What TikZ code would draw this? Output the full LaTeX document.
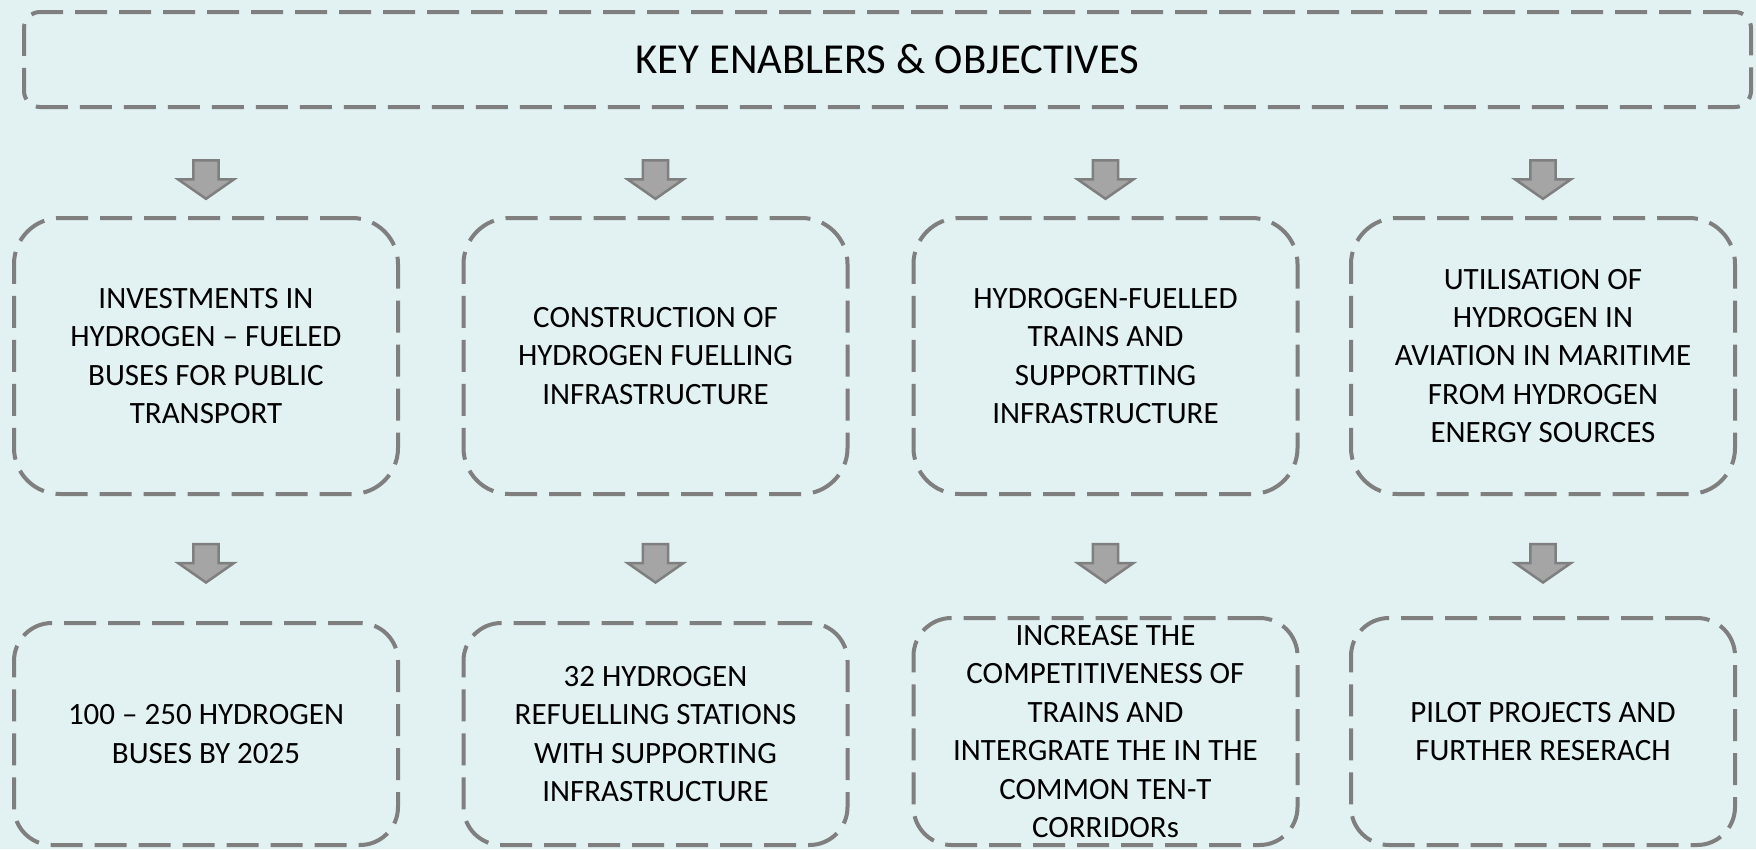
\documentclass[tikz,border=0pt]{standalone}
\usepackage{fontspec}
\setmainfont{Carlito}
\definecolor{bgcol}{RGB}{226,241,242}
\definecolor{linegray}{RGB}{127,127,127}
\definecolor{arrowfill}{RGB}{165,165,165}
\begin{document}
\begin{tikzpicture}[x=1pt,y=-1pt,
  boxstyle/.style={draw=linegray, line width=4pt, dash pattern=on 32pt off 12pt,
    rounded corners=46pt, minimum width=384pt, inner sep=0pt, align=center,
    text=black, font=\fontsize{31pt}{38.4pt}\selectfont},
  titlestyle/.style={draw=linegray, line width=4pt, dash pattern=on 32pt off 12pt,
    rounded corners=16pt, minimum width=1727pt, minimum height=95pt, inner sep=0pt,
    align=center, text=black, font=\fontsize{42.7pt}{50pt}\selectfont},
  downarr/.pic={\draw[draw=linegray, fill=arrowfill, line width=2.5pt]
    (-12.7,0) -- (12.7,0) -- (12.7,19) -- (28,19) -- (0,38.5) -- (-28,19) -- (-12.7,19) -- cycle;}
]
\useasboundingbox (0,0) rectangle (1756,849);
\fill[bgcol] (0,0) rectangle (1756,849);

\node[titlestyle] (top) at (887.5,59.5) {KEY ENABLERS \& OBJECTIVES};

\node[boxstyle, minimum height=276pt] (a1) at (206,356)
  {INVESTMENTS IN\\HYDROGEN – FUELED\\BUSES FOR PUBLIC\\TRANSPORT};
\node[boxstyle, minimum height=276pt] (a2) at (655.5,356)
  {CONSTRUCTION OF\\HYDROGEN FUELLING\\INFRASTRUCTURE};
\node[boxstyle, minimum height=276pt] (a3) at (1105.5,356)
  {HYDROGEN-FUELLED\\TRAINS AND\\SUPPORTTING\\INFRASTRUCTURE};
\node[boxstyle, minimum height=276pt] (a4) at (1543,356)
  {UTILISATION OF\\HYDROGEN IN\\AVIATION IN MARITIME\\FROM HYDROGEN\\ENERGY SOURCES};

\node[boxstyle, minimum height=222pt, rounded corners=38pt] (b1) at (206,734)
  {100 – 250 HYDROGEN\\BUSES BY 2025};
\node[boxstyle, minimum height=222pt, rounded corners=38pt] (b2) at (655.5,734)
  {32 HYDROGEN\\REFUELLING STATIONS\\WITH SUPPORTING\\INFRASTRUCTURE};
\node[boxstyle, minimum height=227pt, rounded corners=38pt] (b3) at (1105.5,731.5)
  {INCREASE THE\\COMPETITIVENESS OF\\TRAINS AND\\INTERGRATE THE IN THE\\COMMON TEN-T\\CORRIDORs};
\node[boxstyle, minimum height=227pt, rounded corners=38pt] (b4) at (1543,731.5)
  {PILOT PROJECTS AND\\FURTHER RESERACH};

\foreach \n in {a1,a2,a3,a4}{
  \pic at (\n.center |- 0,160.3) {downarr};
}
\foreach \n in {b1,b2,b3,b4}{
  \pic at (\n.center |- 0,544) {downarr};
}
\end{tikzpicture}
\end{document}
